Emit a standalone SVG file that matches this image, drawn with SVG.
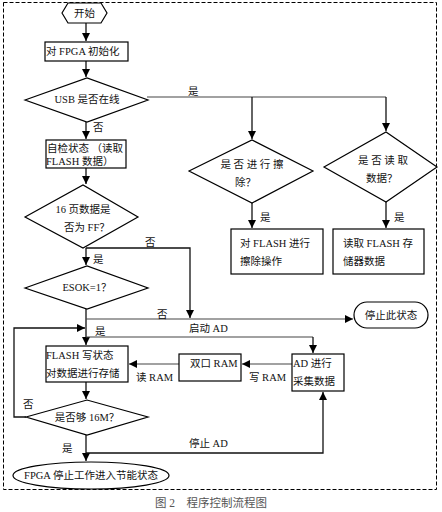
<svg xmlns="http://www.w3.org/2000/svg" width="442" height="512" viewBox="0 0 442 512">
<style>
.s{fill:#fff;stroke:#000;stroke-width:1.2}
.t{font-family:"Liberation Serif","Noto Sans CJK SC",serif;font-size:10.5px;fill:#111}
.c{stroke:#111;stroke-width:1.3;fill:none}
.g{stroke:#444;stroke-width:1.1;fill:none}
</style>
<defs>
<marker id="a" markerUnits="userSpaceOnUse" markerWidth="8" markerHeight="8" viewBox="0 0 8 8" refX="8" refY="4" orient="auto"><path d="M0,0 L8,4 L0,8 Z" fill="#000"/></marker>
</defs>
<rect x="3.5" y="2.5" width="433" height="487" fill="none" stroke="#000" stroke-width="1" stroke-dasharray="4,2"/>
<g id="connectors">
<path class="c" d="M86,23 V41" marker-end="url(#a)"/>
<path class="c" d="M86,61 V77" marker-end="url(#a)"/>
<path class="g" d="M147,97 H386"/>
<path class="c" d="M252,97 V139" marker-end="url(#a)"/>
<path class="c" d="M386,97 V131" marker-end="url(#a)"/>
<path class="c" d="M86,122 V139" marker-end="url(#a)"/>
<path class="c" d="M86,168 V184" marker-end="url(#a)"/>
<path class="c" d="M252,203 V228" marker-end="url(#a)"/>
<path class="c" d="M386,202 V228" marker-end="url(#a)"/>
<path class="c" d="M86,248 V265" marker-end="url(#a)"/>
<path class="c" d="M86,248 H190 V318" marker-end="url(#a)"/>
<path class="c" d="M86,309 V345" marker-end="url(#a)"/>
<path class="g" d="M86,319 H353" marker-end="url(#a)"/>
<path class="g" d="M86,337 H313"/>
<path class="c" d="M313,337 V353" marker-end="url(#a)"/>
<path class="c" d="M26,417 H14 V328 H85" marker-end="url(#a)"/>
<path class="g" d="M292,364 H242" marker-end="url(#a)"/>
<path class="g" d="M179,364 H129" marker-end="url(#a)"/>
<path class="c" d="M86,382 V399" marker-end="url(#a)"/>
<path class="c" d="M86,435 V461" marker-end="url(#a)"/>
<path class="c" d="M86,453 H323 V392" marker-end="url(#a)"/>
</g>
<g id="labels">
<text class="t" x="188" y="95">是</text>
<text class="t" x="93" y="131">否</text>
<text class="t" x="260" y="221">是</text>
<text class="t" x="394" y="221">是</text>
<text class="t" x="93" y="263">是</text>
<text class="t" x="145" y="246">否</text>
<text class="t" x="157" y="318">否</text>
<text class="t" x="95" y="335">是</text>
<text class="t" x="189" y="332">启动 AD</text>
<text class="t" x="23" y="408">否</text>
<text class="t" x="249" y="381">写 RAM</text>
<text class="t" x="136" y="381">读 RAM</text>
<text class="t" x="62" y="452">是</text>
<text class="t" x="189" y="447">停止 AD</text>
</g>
<g id="start"><path class="s" d="M62,13 L68,3 H101 L107,13 L101,23 H68 Z"/><text class="t" x="84.5" y="17" text-anchor="middle">开始</text></g>
<g id="init"><rect class="s" x="45" y="42" width="83" height="19"/><text class="t" x="46" y="55">对 FPGA 初始化</text></g>
<g id="usb"><path class="s" d="M25,100 L87,78 L148,100 L87,122 Z"/><text class="t" x="87" y="103" text-anchor="middle">USB 是否在线</text></g>
<g id="erase-q"><path class="s" d="M189,171 L252,140 L313,171 L252,203 Z"/><text class="t" x="252" y="168" text-anchor="middle">是 否 进 行 擦</text><text class="t" x="235" y="186">除？</text></g>
<g id="read-q"><path class="s" d="M324,167 L386,132 L437,167 L386,202 Z"/><text class="t" x="383" y="164" text-anchor="middle">是 否 读 取</text><text class="t" x="366" y="182">数据？</text></g>
<g id="erase"><rect class="s" x="231" y="229" width="92" height="45"/><text class="t" x="240" y="247">对 FLASH 进行</text><text class="t" x="240" y="265">擦除操作</text></g>
<g id="read"><rect class="s" x="333" y="229" width="91" height="45"/><text class="t" x="343" y="247">读取 FLASH 存</text><text class="t" x="343" y="265">储器数据</text></g>
<g id="selfcheck"><rect class="s" x="46" y="140" width="80" height="28"/><text class="t" x="47" y="152">自检状态 （读取</text><text class="t" x="46" y="165">FLASH 数据）</text></g>
<g id="ff"><path class="s" d="M25,217 L83,185 L138,217 L83,248 Z"/><text class="t" x="83" y="213" text-anchor="middle">16 页数据是</text><text class="t" x="64" y="231">否为 FF？</text></g>
<g id="esok"><path class="s" d="M25,288 L87,266 L148,288 L87,309 Z"/><text class="t" x="87" y="291" text-anchor="middle">ESOK=1？</text></g>
<g id="stop"><rect class="s" x="354" y="302" width="74" height="26" rx="13"/><text class="t" x="391" y="319" text-anchor="middle">停止此状态</text></g>
<g id="flash"><rect class="s" x="46" y="346" width="82" height="36"/><text class="t" x="46" y="359">FLASH 写状态</text><text class="t" x="46" y="377">对数据进行存储</text></g>
<g id="dpram"><rect class="s" x="179" y="354" width="62" height="27"/><text class="t" x="190" y="367">双口 RAM</text></g>
<g id="ad"><rect class="s" x="292" y="354" width="52" height="37"/><text class="t" x="293" y="367">AD 进行</text><text class="t" x="293" y="385">采集数据</text></g>
<g id="q16m"><path class="s" d="M26,417 L87,400 L148,417 L87,435 Z"/><text class="t" x="87" y="421" text-anchor="middle">是否够 16M？</text></g>
<g id="end"><ellipse class="s" cx="91" cy="475.5" rx="78" ry="13.5"/><text class="t" x="91" y="479" text-anchor="middle">FPGA 停止工作进入节能状态</text></g>
<text x="155" y="507" xml:space="preserve" font-family="Liberation Serif,Noto Sans CJK SC,serif" font-size="11.5" fill="#555">图 2    程序控制流程图</text>
</svg>
